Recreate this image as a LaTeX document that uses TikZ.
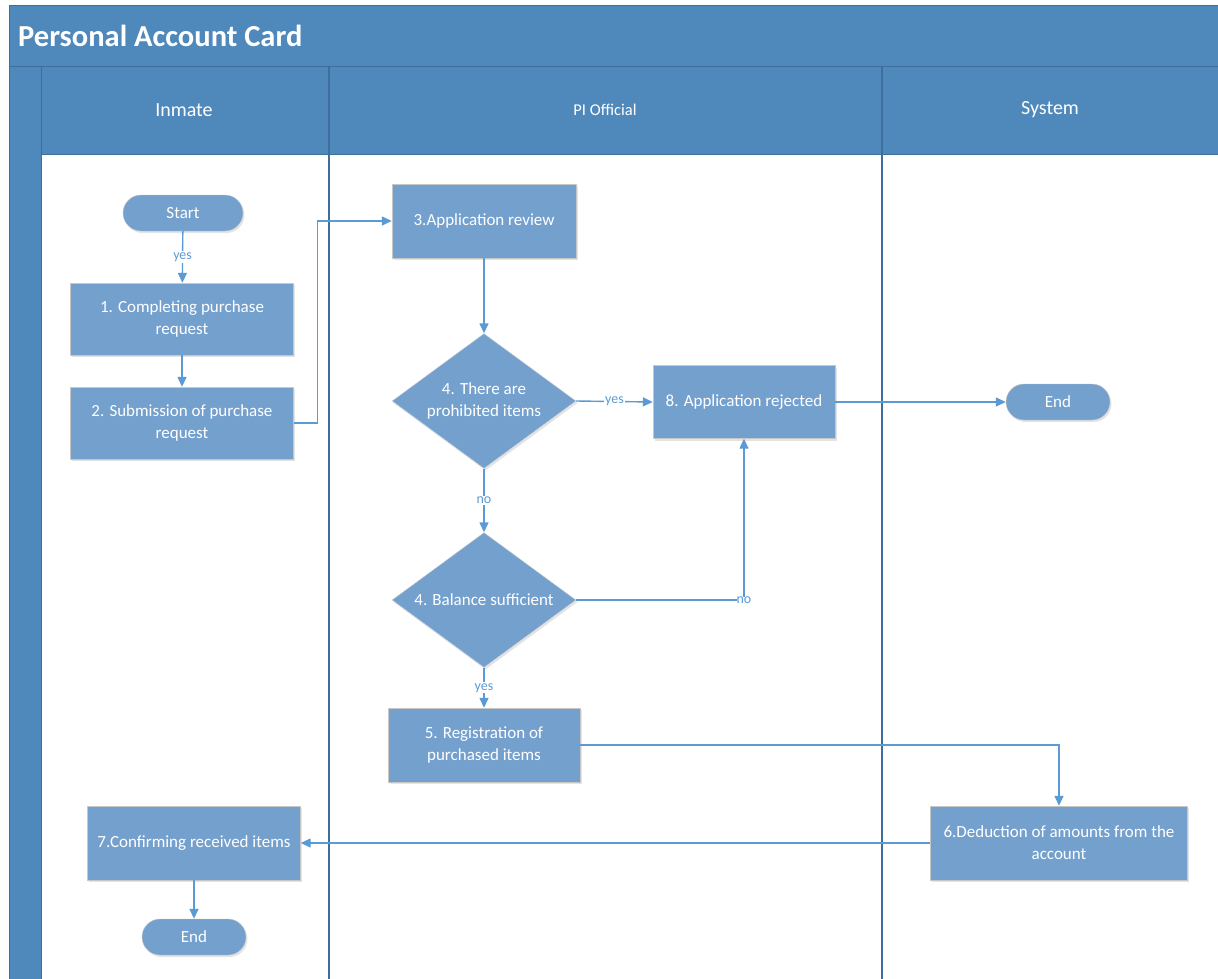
\documentclass[tikz,border=0pt]{standalone}
\usepackage{fontspec}
\setmainfont{Carlito}
\usetikzlibrary{arrows.meta,shapes.geometric,shadows}

\definecolor{bandblue}{RGB}{79,136,187}
\definecolor{edgeblue}{RGB}{62,110,155}
\definecolor{boxblue}{RGB}{116,160,206}
\definecolor{linkblue}{RGB}{91,155,213}

\tikzset{
  boxshadow/.style={drop shadow={shadow xshift=1.5pt, shadow yshift=-2pt, opacity=.18, fill=black!60}},
  procbox/.style={draw=black!22, fill=boxblue, text=white, align=center, inner sep=2pt,
    font=\fontsize{17}{22}\selectfont, boxshadow},
  termbox/.style={procbox, rounded corners=18pt, minimum width=120pt, minimum height=36pt},
  decbox/.style={diamond, draw=black!15, fill=boxblue, text=white, align=center, inner sep=0pt,
    font=\fontsize{17}{22}\selectfont, minimum width=184pt, minimum height=135pt, aspect=1.36, boxshadow},
  flowline/.style={draw=linkblue, line width=1.4pt, -{Triangle[length=10pt,width=9pt]}},
  lbl/.style={fill=white, text=linkblue, inner sep=1pt, font=\fontsize{14}{16}\selectfont},
  lanetext/.style={text=white, font=\fontsize{20}{24}\selectfont}
}

\begin{document}
\begin{tikzpicture}[x=1pt,y=-1pt]
  \useasboundingbox (0,0) rectangle (1218,978);
  % pool, title band and lanes
  \fill[white] (0,0) rectangle (1218,978);
  \filldraw[fill=bandblue, draw=edgeblue, line width=1pt] (9,5) rectangle (1230,66);
  \filldraw[fill=bandblue, draw=edgeblue, line width=1pt] (9,66) rectangle (41,990);
  \filldraw[fill=bandblue, draw=edgeblue, line width=1pt] (41,66) rectangle (1230,154);
  \draw[edgeblue, line width=1.8pt] (329,66) -- (329,990);
  \draw[edgeblue, line width=1.8pt] (882,66) -- (882,990);
  \node[name=title, anchor=west, inner sep=0pt, text=white, font=\bfseries\fontsize{30.5}{36}\selectfont] at (18,36) {Personal Account Card};
  \node[name=inmate, lanetext] at (184,110) {Inmate};
  \node[name=official, lanetext, font=\fontsize{16.5}{20}\selectfont] at (605,110) {PI Official};
  \node[name=system, lanetext] at (1050,110) {System};

  % steps
  \node[name=start, termbox] at (183,213) {Start};
  \node[name=s1, procbox, minimum width=223pt, minimum height=72pt] at (182,319) {1. Completing purchase\\request};
  \node[name=s2, procbox, minimum width=223pt, minimum height=72pt] at (182,423) {2. Submission of purchase\\request};
  \node[name=s3, procbox, minimum width=184pt, minimum height=74pt] at (484,221) {3.Application review};
  \node[name=d1, decbox] at (484,401) {4. There are\\prohibited items};
  \node[name=s8, procbox, minimum width=182pt, minimum height=73pt] at (744,402) {8. Application rejected};
  \node[name=end1, termbox, minimum width=104pt] at (1058,402) {End};
  \node[name=d2, decbox] at (484,600) {4. Balance sufficient};
  \node[name=s5, procbox, minimum width=192pt, minimum height=74pt] at (484,745) {5. Registration of\\purchased items};
  \node[name=s6, procbox, minimum width=257pt, minimum height=74pt] at (1059,843) {6.Deduction of amounts from the\\account};
  \node[name=s7, procbox, minimum width=213pt, minimum height=74pt] at (194,843) {7.Confirming received items};
  \node[name=end2, termbox, minimum width=104pt] at (194,937) {End};

  % connectors
  \draw[flowline] (start) -- node[lbl]{yes} (s1);
  \draw[flowline] (s1) -- (s2);
  \draw[flowline] (s2.east) -- ++(24,0) |- (s3.west);
  \draw[flowline] (s3) -- (d1);
  \draw[flowline] (d1.east) -- node[lbl]{yes} (s8.west);
  \draw[flowline] (s8.east) -- (end1.west);
  \draw[flowline] (d1.south) -- node[lbl]{no} (d2.north);
  \draw[flowline] (d2.east) -| node[lbl, pos=0.5, inner sep=0pt]{no} (s8.south);
  \draw[flowline] (d2.south) -- node[lbl]{yes} (s5.north);
  \draw[flowline] (s5.east) -| (s6.north);
  \draw[flowline] (s6.west) -- (s7.east);
  \draw[flowline] (s7) -- (end2);
\end{tikzpicture}
\end{document}
